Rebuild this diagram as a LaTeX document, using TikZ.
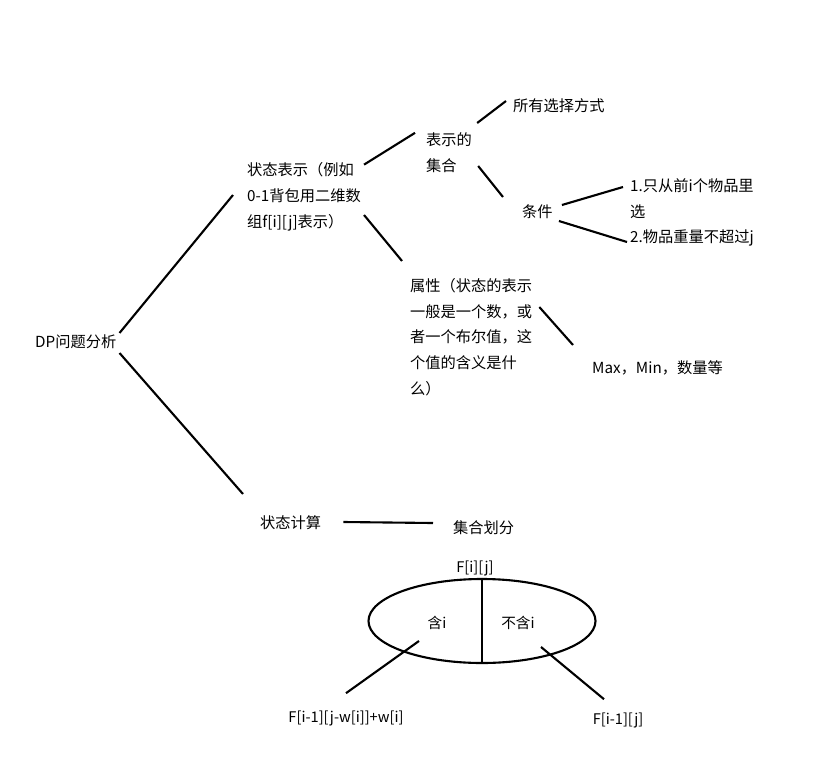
\documentclass[tikz,border=0pt]{standalone}
\usepackage{fontspec}
\setmainfont{Noto Sans CJK SC}
\usetikzlibrary{calc,shapes.geometric}
\tikzset{
  topic/.style={inner sep=0pt, anchor=west, align=left, font=\fontsize{13pt}{22pt}\selectfont},
  formula/.style={inner sep=0pt, font=\fontsize{12.5pt}{22pt}\selectfont},
  link/.style={line width=1.8pt},
  setshape/.style={draw, ellipse, line width=1.8pt, minimum width=6.81cm, minimum height=2.52cm, inner sep=0pt}
}

\begin{document}
\begin{tikzpicture}[x=0.03cm, y=-0.03cm]
      \useasboundingbox (0,0) rectangle (829,776);
      % tree of the analysis
      \node[topic] (dp) at (35,342) {DP问题分析};
      \node[topic] (state) at (247,197) {状态表示（例如\\0-1背包用二维数\\组f[i][j]表示）};
      \node[topic] (set) at (426,153) {表示的\\集合};
      \node[topic] (allways) at (513,106) {所有选择方式};
      \node[topic] (cond) at (522,212) {条件};
      \node[topic] (cond1) at (630,199) {1.只从前i个物品里\\选};
      \node[topic] (cond2) at (630,238) {2.物品重量不超过j};
      \node[topic] (attr) at (410,337) {属性（状态的表示\\一般是一个数，或\\者一个布尔值，这\\个值的含义是什\\么）};
      \node[topic] (val) at (592,368) {Max，Min，数量等};
      \node[topic] (calc) at (260,523) {状态计算};
      \node[topic] (split) at (453,528) {集合划分};
      \draw[link] ($(dp.east)+(3,-9)$) -- ($(state.west)+(-14,-2)$);
      \draw[link] ($(state.north east)+(3,2)$) -- ($(set.north west)+(-11,0)$);
      \draw[link] ($(state.east)+(3,18)$) -- ($(attr.north west)+(-8,-17)$);
      \draw[link] ($(set.east)+(5,-30)$) -- ($(allways.west)+(-7,-5)$);
      \draw[link] ($(set.east)+(6,13)$) -- ($(cond.west)+(-19,-15)$);
      \draw[link] ($(cond.east)+(9,-7)$) -- ($(cond1.west)+(-7,-12)$);
      \draw[link] ($(cond.east)+(6,9)$) -- ($(cond2.west)+(-3,4)$);
      \draw[link] ($(attr.east)+(7,-30)$) -- ($(val.west)+(-19,-23)$);
      \draw[link] ($(dp.east)+(3,11)$) -- ($(calc.west)+(-17,-29)$);
      \draw[link] ($(calc.east)+(22,-1)$) -- ($(split.west)+(-20,-5)$);
      % set partition
      \node[setshape] (whole) at (482,621) {};
      \node[formula] (fij) at (475,568) {F[i][j]};
      \node[formula] (with) at (437,623) {含i};
      \node[formula] (without) at (518,623) {不含i};
      \node[formula] (fwith) at (346,718) {F[i-1][j-w[i]]+w[i]};
      \node[formula] (fwithout) at (618,720) {F[i-1][j]};
      \draw[link] (whole.north) -- (whole.south);
      \draw[link] ($(with.south)+(-18,11)$) -- ($(fwith.north)+(0,-17)$);
      \draw[link] ($(without.south)+(23,17)$) -- ($(fwithout.north)+(-14,-13)$);
    \end{tikzpicture}
\end{document}
